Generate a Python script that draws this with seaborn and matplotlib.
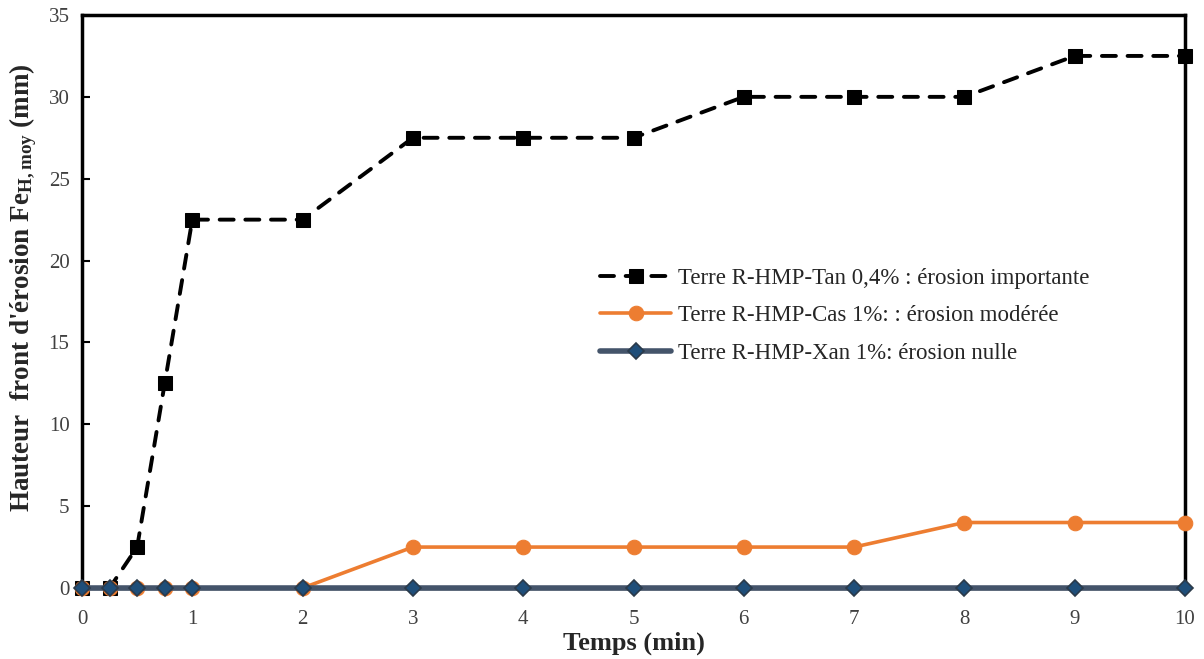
import matplotlib
matplotlib.use("Agg")
import matplotlib.pyplot as plt
import seaborn as sns
import pandas as pd

# Data
temps = [0, 0.25, 0.5, 0.75, 1, 2, 3, 4, 5, 6, 7, 8, 9, 10]
tan = [0, 0, 2.5, 12.5, 22.5, 22.5, 27.5, 27.5, 27.5, 30, 30, 30, 32.5, 32.5]
cas = [0, 0, 0, 0, 0, 0, 2.5, 2.5, 2.5, 2.5, 2.5, 4, 4, 4]
xan = [0, 0, 0, 0, 0, 0, 0, 0, 0, 0, 0, 0, 0, 0]
labels = ["Terre R-HMP-Tan 0,4% : érosion importante",
          "Terre R-HMP-Cas 1%: : érosion modérée",
          "Terre R-HMP-Xan 1%: érosion nulle"]
x_ticks = list(range(0, 11))
y_ticks = list(range(0, 36, 5))

sns.set_theme(style="white")
plt.rcParams['font.family'] = ['Liberation Serif', 'DejaVu Serif']
plt.rcParams['mathtext.fontset'] = 'custom'
plt.rcParams['mathtext.rm'] = 'Liberation Serif:bold'
plt.rcParams['mathtext.it'] = 'Liberation Serif:bold'
plt.rcParams['mathtext.bf'] = 'Liberation Serif:bold'

fig = plt.figure(figsize=(12.04, 6.59), dpi=100)
ax = fig.add_axes([82/1204, 1 - 588/659, (1185-82)/1204, (588-15)/659])

df = pd.DataFrame({"t": temps, "tan": tan, "cas": cas, "xan": xan})

sns.lineplot(data=df, x="t", y="tan", ax=ax, color="black", linestyle=(0, (3.6, 3.0)),
             linewidth=2.8, marker="s", markersize=10.5, markeredgecolor="black",
             label=labels[0], clip_on=False, zorder=3, dash_capstyle='round')
sns.lineplot(data=df, x="t", y="cas", ax=ax, color="#ED7D31", linewidth=2.6,
             marker="o", markersize=10.5, markeredgecolor="#ED7D31",
             label=labels[1], clip_on=False, zorder=4)
sns.lineplot(data=df, x="t", y="xan", ax=ax, color="#44546A", linewidth=4,
             marker="D", markersize=8.5, markerfacecolor="#1F4E79",
             markeredgecolor="#2B3A4A", markeredgewidth=1.2,
             label=labels[2], clip_on=False, zorder=5)

ax.set_xlim(0, 10)
ax.set_ylim(0, 35)
ax.set_xticks(x_ticks)
ax.set_yticks(y_ticks)
ax.tick_params(axis='y', direction='in', length=6, width=1.5, left=True, labelsize=15, pad=9, colors='black')
ax.tick_params(axis='x', length=0, labelsize=15, pad=16)
for lab in ax.get_xticklabels() + ax.get_yticklabels():
    lab.set_color('#404040')
for s in ax.spines.values():
    s.set_color('black')
    s.set_linewidth(2.5)

ax.set_xlabel("Temps (min)", fontsize=19, fontweight='bold', labelpad=2)
ax.set_ylabel("Hauteur  front d'érosion Fe$_{\\mathrm{H,moy}}$ (mm)", fontsize=19.5,
              fontweight='bold', labelpad=6)
ax.yaxis.set_label_coords(-0.039, 0.524)

leg = ax.legend(loc='upper left', bbox_to_anchor=(0.451, 0.595), frameon=False,
                fontsize=16.5, handlelength=3.1, handletextpad=0.3, labelspacing=0.72)

fig.savefig("out.png", dpi=100)
